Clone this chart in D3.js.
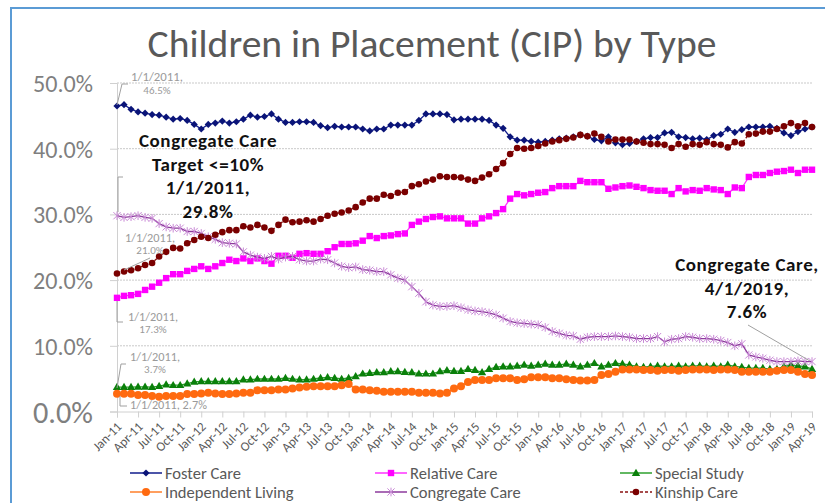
<!DOCTYPE html>
<html><head><meta charset="utf-8">
<script src="https://cdn.jsdelivr.net/npm/d3@7/dist/d3.min.js"></script>
<style>html,body{margin:0;padding:0;background:#fff;overflow:hidden}</style>
</head><body>
<svg id="chart" width="825" height="503"></svg>
<script>
// ---------- DATA ----------
const monthNames = ["Jan","Feb","Mar","Apr","May","Jun","Jul","Aug","Sep","Oct","Nov","Dec"];
const categories = [];
for (let y = 2011; y <= 2019; y++) for (let m = 0; m < 12; m++) {
  if (y === 2019 && m > 3) break;
  categories.push(monthNames[m] + "-" + String(y).slice(2));
}
const tickLabels = ["Jan-11","Apr-11","Jul-11","Oct-11","Jan-12","Apr-12","Jul-12","Oct-12","Jan-13","Apr-13","Jul-13","Oct-13","Jan-14","Apr-14","Jul-14","Oct-14","Jan-15","Apr-15","Jul-15","Oct-15","Jan-16","Apr-16","Jul-16","Oct-16","Jan-17","Apr-17","Jul-17","Oct-17","Jan-18","Apr-18","Jul-18","Oct-18","Jan-19","Apr-19"];
const yTicks = [0, 10, 20, 30, 40, 50];

const fosterCare = [46.5,46.7,46.0,45.6,45.4,45.2,45.1,44.8,44.5,44.6,44.3,43.7,43.0,43.7,43.9,44.2,43.9,44.1,44.5,45.1,44.8,44.9,45.3,44.5,44.0,44.0,44.1,44.1,44.0,43.5,43.2,43.4,43.3,43.3,43.3,43.0,42.7,43.0,43.0,43.6,43.6,43.6,43.6,44.3,45.3,45.3,45.3,45.2,44.4,44.5,44.5,44.5,
  44.5,44.3,43.6,43.1,41.8,41.3,41.3,41.1,41.0,41.1,41.3,41.5,41.6,41.8,42.1,41.9,41.4,41.2,41.8,40.9,40.6,40.8,41.1,41.5,41.7,41.7,42.4,42.5,41.8,41.7,41.5,41.6,41.4,42.0,42.2,43.0,42.5,42.9,43.3,43.3,43.3,43.4,43.1,42.4,42.0,42.6,43.0,43.3];
const relativeCare = [17.3,17.6,17.7,17.9,18.5,19.0,19.6,20.3,20.9,20.9,21.4,21.7,22.1,21.7,22.1,22.6,23.1,22.9,23.3,22.9,23.3,22.9,22.5,23.7,23.7,23.4,24.0,24.1,24.0,24.0,24.4,25.0,25.5,25.5,25.6,26.0,26.7,26.4,26.7,26.8,27.0,27.1,28.4,28.9,29.3,29.6,29.7,29.4,29.4,29.4,28.6,28.6,
  29.4,29.7,30.2,30.8,32.4,33.1,32.9,33.1,33.3,33.4,34.0,34.3,34.3,34.3,35.1,34.9,34.9,34.9,33.9,34.1,34.3,34.4,34.2,34.0,33.7,33.6,33.6,33.1,34.0,33.5,33.7,33.6,34.0,33.8,33.7,33.1,34.1,34.0,35.7,36.0,36.0,36.3,36.5,36.6,36.8,36.3,36.8,36.8];
const specialStudy = [3.7,3.7,3.7,3.75,3.75,3.7,3.85,4.1,4.0,4.0,4.25,4.5,4.6,4.6,4.6,4.6,4.6,4.6,4.85,4.85,4.95,4.95,4.95,4.95,5.1,4.95,4.85,4.85,4.95,5.1,5.2,5.1,4.95,5.1,5.35,5.75,5.85,5.95,5.95,6.1,6.1,6.0,5.95,5.75,5.75,5.75,6.1,6.25,6.15,6.15,6.45,6.3,
  5.95,6.45,6.75,6.85,6.85,6.95,7.1,6.95,7.1,7.25,7.1,7.1,7.25,7.1,6.85,7.1,7.35,6.85,7.1,7.35,7.25,7.1,6.85,6.75,6.85,6.95,6.85,6.85,6.95,6.85,6.95,6.95,6.85,6.95,6.85,7.1,6.85,6.75,6.6,6.6,6.6,6.45,6.45,6.85,7.1,6.95,6.85,6.45];
const independentLiving = [2.7,2.7,2.7,2.5,2.5,2.35,2.25,2.35,2.35,2.35,2.65,2.65,2.75,2.85,2.75,2.65,2.65,2.75,2.85,2.85,3.25,3.25,3.25,3.35,3.35,3.5,3.65,3.75,3.85,3.85,3.85,3.85,4.0,4.2,3.35,3.35,3.25,3.15,3.0,3.0,3.0,3.0,3.0,2.85,2.85,2.85,2.75,2.85,3.5,3.85,4.5,4.8,
  4.8,4.8,5.05,5.05,5.05,4.8,4.9,5.2,5.2,5.2,5.05,5.05,4.9,4.8,4.7,4.7,4.8,5.55,5.7,6.05,6.4,6.4,6.4,6.3,6.3,6.2,6.3,6.3,6.2,6.3,6.4,6.4,6.4,6.3,6.4,6.4,6.3,6.05,6.05,6.05,6.05,6.05,6.2,6.3,6.3,6.05,5.7,5.55];
const congregateCare = [29.8,29.55,29.65,29.8,29.55,29.4,28.6,28.1,27.9,27.9,27.4,27.4,27.1,26.6,26.2,25.7,25.6,25.5,24.3,23.8,23.5,23.3,23.6,23.2,23.5,23.6,23.1,22.9,22.9,23.2,23.1,22.6,22.1,21.9,22.0,21.6,21.5,21.3,21.3,20.8,20.3,20.0,19.0,18.0,16.7,16.2,16.0,16.0,16.1,15.8,15.5,15.3,
  15.2,15.0,14.7,14.2,13.7,13.5,13.4,13.3,13.2,12.8,12.2,11.9,11.6,11.5,11.0,11.3,11.4,11.4,11.4,11.5,11.4,11.3,11.1,11.1,11.1,11.4,10.6,11.0,11.1,11.4,11.3,11.1,11.1,11.0,10.8,10.5,10.0,10.3,8.6,8.3,8.1,7.8,7.6,7.6,7.6,7.7,7.6,7.6];
const kinshipCare = [21.0,21.3,21.5,21.8,22.3,22.6,23.6,24.3,24.9,24.8,25.6,26.1,26.6,26.4,26.9,27.3,27.6,27.6,28.2,28.0,28.4,28.0,27.5,28.4,29.2,28.8,28.9,29.1,28.9,29.3,29.8,30.1,30.3,30.6,31.1,31.8,32.4,32.4,33.0,32.8,33.3,33.4,34.3,34.6,35.0,35.3,35.8,35.7,35.7,35.6,35.3,35.1,
  35.6,36.1,36.9,37.8,39.2,40.1,40.0,40.1,40.4,40.8,41.1,41.3,41.5,41.7,42.1,41.9,42.3,41.8,41.1,41.4,41.4,41.4,41.1,40.9,40.7,40.7,40.6,40.1,40.7,40.3,40.7,40.6,41.0,40.7,40.6,40.2,41.0,40.8,42.2,42.3,42.6,42.6,43.0,43.4,43.9,43.4,43.9,43.3];

const seriesNames = ["Foster Care","Relative Care","Special Study","Independent Living","Congregate Care","Kinship Care"];
const seriesValues = [fosterCare, relativeCare, specialStudy, independentLiving, congregateCare, kinshipCare];

// ---------- STYLE ----------
const styles = {
  "Foster Care":        {line:"#101c8c", marker:"diamond", fill:"#0a1478", size:3.6, dash:null, w:1.3},
  "Relative Care":      {line:"#ff33ff", marker:"square",  fill:"#ff00ff", size:3.2, dash:null, w:1.3},
  "Special Study":      {line:"#2ea02e", marker:"triangle",fill:"#0a800a", size:3.8, dash:null, w:1.3},
  "Independent Living": {line:"#ff7f2a", marker:"circle",  fill:"#ff6a10", size:4.0, dash:null, w:1.5},
  "Congregate Care":    {line:"#8c3a9c", marker:"star",    fill:"#c98ad6", size:3.6, dash:null, w:1.3},
  "Kinship Care":       {line:"#8b1010", marker:"circle",  fill:"#7a0000", size:3.3, dash:"3,2", w:1.3}
};
const FONT = "Carlito, Calibri, Lato, 'Open Sans', sans-serif";

function markerPath(type, r) {
  switch (type) {
    case "diamond": return `M0,${-r}L${r},0L0,${r}L${-r},0Z`;
    case "square": return `M${-r},${-r}H${r}V${r}H${-r}Z`;
    case "triangle": { const h = r * 1.9; return `M0,${-h*0.6}L${r*1.1},${h*0.4}L${-r*1.1},${h*0.4}Z`; }
    case "circle": return d3.symbol(d3.symbolCircle, Math.PI * r * r)();
    case "star": return `M${-r},${-r}L${r},${r}M${-r},${r}L${r},${-r}M0,${-r*1.2}V${r*1.2}`;
  }
}

// ---------- CHART ----------
const svg = d3.select("#chart");
const x = d3.scalePoint().domain(categories).range([117, 812]);
const y = d3.scaleLinear().domain([0, 50]).range([411.5, 83]);

// frame border
svg.append("path").attr("d", "M11,520V8H840").attr("fill", "none").attr("stroke", "#5b9bd5").attr("stroke-width", 2);

function fit(sel, w) {
  const n = sel.node();
  const cur = n.getComputedTextLength();
  const fs = parseFloat(sel.attr("font-size"));
  sel.attr("font-size", fs * w / cur);
  return sel;
}

// title
fit(svg.append("text").attr("x", 432).attr("y", 57).attr("text-anchor", "middle")
  .attr("font-family", FONT).attr("font-size", 34).attr("fill", "#595959")
  .text("Children in Placement (CIP) by Type"), 569);

// gridlines
svg.append("g").selectAll("line").data(yTicks.filter(d => d > 0)).join("line")
  .attr("x1", 117).attr("x2", 812).attr("y1", d => y(d)).attr("y2", d => y(d))
  .attr("stroke", "#c9c9c9").attr("stroke-width", 1).attr("stroke-dasharray", "2,1");

// y axis
const yAxis = svg.append("g").attr("transform", "translate(117,0)")
  .call(d3.axisLeft(y).tickValues(yTicks).tickSize(7).tickPadding(10).tickFormat(d => d.toFixed(1) + "%"));
yAxis.select(".domain").attr("stroke", "#d0d0d0");
yAxis.selectAll(".tick line").attr("stroke", "#d0d0d0");
yAxis.selectAll("text").attr("font-family", FONT).attr("font-size", 19).attr("fill", "#7f7f7f")
  .attr("x", -24).attr("dy", "0.35em");
yAxis.selectAll("text").each(function () { fit(d3.select(this), 60); });

// x axis
const tickCats = categories.filter((c, i) => i % 3 === 0);
const xAxis = svg.append("g").attr("transform", "translate(0,411.5)")
  .call(d3.axisBottom(x).tickValues(tickCats).tickSize(6).tickFormat((d, i) => tickLabels[i]));
xAxis.select(".domain").attr("stroke", "#d0d0d0");
xAxis.selectAll(".tick line").attr("stroke", "#d0d0d0");
xAxis.selectAll("text").attr("font-family", FONT).attr("font-size", 13).attr("fill", "#595959")
  .attr("text-anchor", "end").attr("x", 0).attr("y", 0).attr("dy", 0)
  .attr("transform", "translate(5,16) rotate(-45)");

// series
const plot = svg.append("g");
seriesNames.forEach((name, si) => {
  const st = styles[name];
  const vals = seriesValues[si];
  const g = plot.append("g");
  const line = d3.line().x((d, i) => x(categories[i])).y(d => y(d));
  g.append("path").datum(vals).attr("d", line).attr("fill", "none")
    .attr("stroke", st.line).attr("stroke-width", st.w)
    .attr("stroke-dasharray", st.dash);
  g.selectAll("path.m").data(vals).join("path").attr("class", "m")
    .attr("transform", (d, i) => `translate(${x(categories[i])},${y(d)})`)
    .attr("d", markerPath(st.marker, st.size))
    .attr("fill", st.marker === "star" ? "none" : st.fill)
    .attr("stroke", st.marker === "star" ? st.fill : "none")
    .attr("stroke-width", 1);
});

// annotations: grey callouts
const grey = "#9a9a9a";
function greyText(lines, cx, baselines, width0) {
  lines.forEach((t, k) => {
    const s = svg.append("text").attr("x", cx).attr("y", baselines[k]).attr("text-anchor", "middle")
      .attr("font-family", FONT).attr("font-size", 11).attr("fill", grey).text(t);
    if (k === 0 && width0) fit(s, width0);
  });
}
function leader(d) { svg.append("path").attr("d", d).attr("fill", "none").attr("stroke", "#a0a0a0").attr("stroke-width", 1); }

greyText(["1/1/2011,", "46.5%"], 157, [81, 94], 52);
leader("M117,105L122,84L128,84");
greyText(["1/1/2011,", "21.0%"], 150, [242, 254], 50);
leader("M124,270L150,258");
greyText(["1/1/2011,", "17.3%"], 153, [321, 333], 50);
leader("M117,301V322H123");
greyText(["1/1/2011,", "3.7%"], 155, [361, 373], 50);
leader("M117,388L121,364H126");
const g27 = svg.append("text").attr("x", 130).attr("y", 409).attr("font-family", FONT)
  .attr("font-size", 11).attr("fill", grey).text("1/1/2011, 2.7%");
fit(g27, 77);
leader("M120,396V406H127");

// bold annotations
function boldBlock(lines, cx, baselines) {
  lines.forEach((t, k) => {
    svg.append("text").attr("x", cx).attr("y", baselines[k]).attr("text-anchor", "middle")
      .attr("font-family", FONT).attr("font-weight", "bold").attr("font-size", 19)
      .attr("letter-spacing", 0.6).attr("fill", "#111").text(t);
  });
}
boldBlock(["Congregate Care", "Target <=10%", "1/1/2011,", "29.8%"], 208, [147, 170.5, 194, 218]);
leader("M123,177H118V212");
boldBlock(["Congregate Care,", "4/1/2019,", "7.6%"], 747, [271, 294.5, 318]);
leader("M748,325L810,361");

// legend
const legendPos = [[130, 473], [375, 473], [620, 473], [130, 492], [375, 492], [620, 492]];
let legendFs = null;
seriesNames.forEach((name, si) => {
  const st = styles[name];
  const [lx, ly] = legendPos[si];
  const g = svg.append("g");
  g.append("line").attr("x1", lx).attr("x2", lx + 32).attr("y1", ly).attr("y2", ly)
    .attr("stroke", st.line).attr("stroke-width", 1.5).attr("stroke-dasharray", st.dash);
  g.append("path").attr("transform", `translate(${lx + 16},${ly})`).attr("d", markerPath(st.marker, st.size))
    .attr("fill", st.marker === "star" ? "none" : st.fill)
    .attr("stroke", st.marker === "star" ? st.fill : "none");
  const t = g.append("text").attr("x", lx + 35).attr("y", ly).attr("dy", "0.35em")
    .attr("font-family", FONT).attr("font-size", 15).attr("fill", "#595959").text(name);
  if (legendFs === null) { fit(t, 76); legendFs = t.attr("font-size"); }
  else t.attr("font-size", legendFs);
});
</script>
</body></html>
